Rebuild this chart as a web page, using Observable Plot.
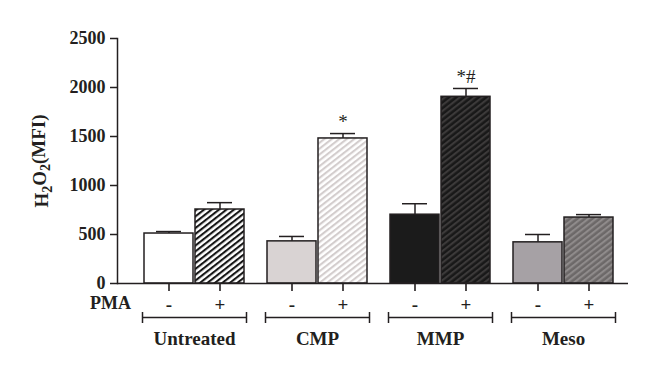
<!DOCTYPE html>
<html><head><meta charset="utf-8">
<script src="https://cdn.jsdelivr.net/npm/d3@7"></script>
<script src="https://cdn.jsdelivr.net/npm/@observablehq/plot@0.6"></script>
<style>body{margin:0;background:#fff}</style>
</head><body><div id="chart"></div>
<script>
const groups = ["Untreated", "CMP", "MMP", "Meso"];
const minusValues = [510, 430, 702, 420];
const minusErrors = [20, 50, 112, 80];
const plusValues = [755, 1480, 1905, 673];
const plusErrors = [70, 50, 85, 30];
const significance = ["", "*", "*#", ""];
const yTicks = [0, 500, 1000, 1500, 2000, 2500];
const pmaLabels = ["-", "+"];
const treatmentLabel = "PMA";
const yLabel = "H2O2(MFI)";

const minus = groups.map((g, i) => ({group: g, value: minusValues[i], err: minusErrors[i], pma: pmaLabels[0]}));
const plus = groups.map((g, i) => ({group: g, value: plusValues[i], err: plusErrors[i], pma: pmaLabels[1], sig: significance[i]}));

const ink = "#231f20";
const minusFill = {Untreated: "#ffffff", CMP: "#d9d3d3", MMP: "#1b1b1b", Meso: "#a6a1a5"};
const plusFill = {Untreated: "url(#hatch-untreated)", CMP: "url(#hatch-cmp)", MMP: "url(#hatch-mmp)", Meso: "url(#hatch-meso)"};
const patterns = [
  {id: "hatch-untreated", bg: "#ffffff", fg: "#161616"},
  {id: "hatch-cmp", bg: "#ffffff", fg: "#d3cdcd"},
  {id: "hatch-mmp", bg: "#181818", fg: "#3c3a3a"},
  {id: "hatch-meso", bg: "#6c6868", fg: "#8f8b8b"}
];

const off = 25.5;
const sw = 1.5;
const serif = "'Liberation Serif', 'Times New Roman', serif";

const chart = Plot.plot({
  width: 660, height: 377,
  marginTop: 38, marginBottom: 94, marginLeft: 117, marginRight: 32,
  style: {fontFamily: serif, fontWeight: "bold", fontSize: "18px", background: "#fff", color: ink},
  x: {domain: groups, paddingInner: 0.19, paddingOuter: 0.157, align: 0.64, axis: null},
  y: {domain: [0, 2500], axis: null},
  color: {type: "identity"},
  marks: [
    Plot.barY(minus, {x: "group", y: "value", fill: d => minusFill[d.group], stroke: ink, strokeWidth: sw, insetRight: 51}),
    Plot.barY(plus, {x: "group", y: "value", fill: d => plusFill[d.group], stroke: ink, strokeWidth: sw, insetLeft: 51}),
    // error bars
    Plot.ruleX(minus, {x: "group", y1: "value", y2: d => d.value + d.err, dx: -off, stroke: ink, strokeWidth: sw}),
    Plot.ruleX(plus, {x: "group", y1: "value", y2: d => d.value + d.err, dx: off, stroke: ink, strokeWidth: sw}),
    Plot.tickY(minus, {x: "group", y: d => d.value + d.err, insetLeft: 12, insetRight: 63, stroke: ink, strokeWidth: sw}),
    Plot.tickY(plus, {x: "group", y: d => d.value + d.err, insetLeft: 63, insetRight: 12, stroke: ink, strokeWidth: sw}),
    // significance
    Plot.text(plus, {x: "group", y: d => d.value + d.err, text: "sig", dx: off, dy: -12, fontWeight: "normal", fontSize: 19}),
    // axes
    Plot.ruleY([0], {stroke: ink, strokeWidth: sw}),
    Plot.frame({anchor: "left", stroke: ink, strokeWidth: sw}),
    Plot.axisY({ticks: yTicks, tickFormat: d => String(d), tickSize: 7, tickPadding: 5, stroke: ink, strokeWidth: sw, label: null, fontSize: 18}),
    // ticks under bars
    Plot.ruleX(groups, {x: d => d, y1: 0, y2: 0, insetTop: 0, insetBottom: -8, dx: -off, stroke: ink, strokeWidth: 1.6}),
    Plot.ruleX(groups, {x: d => d, y1: 0, y2: 0, insetTop: 0, insetBottom: -8, dx: off, stroke: ink, strokeWidth: 1.6}),
    // PMA labels
    Plot.text(minus, {x: "group", y: 0, text: "pma", dx: -off, dy: 21, fontSize: 19}),
    Plot.text(plus, {x: "group", y: 0, text: "pma", dx: off, dy: 21, fontSize: 19}),
    Plot.text([treatmentLabel], {frameAnchor: "bottom-left", textAnchor: "middle", lineAnchor: "middle", text: d => d, dx: -7, dy: 20, fontSize: 18}),
    // group brackets
    Plot.tickY(groups, {x: d => d, y: 0, dy: 34, insetLeft: -2, insetRight: -2, stroke: ink, strokeWidth: sw}),
    Plot.ruleX(groups, {x: d => d, y1: 0, y2: 0, insetTop: 29, insetBottom: -40, dx: -52, stroke: ink, strokeWidth: sw}),
    Plot.ruleX(groups, {x: d => d, y1: 0, y2: 0, insetTop: 29, insetBottom: -40, dx: 52, stroke: ink, strokeWidth: sw}),
    Plot.text(groups, {x: d => d, y: 0, text: d => d, dy: 55, fontSize: 19}),
    // y label
    Plot.text([yLabel], {frameAnchor: "left", textAnchor: "middle", text: d => d, rotate: -90, dx: -76, fontSize: 19})
  ]
});

const defs = d3.select(chart).insert("defs", ":first-child");
for (const p of patterns) {
  const pat = defs.append("pattern").attr("id", p.id).attr("patternUnits", "userSpaceOnUse")
    .attr("width", 4.6).attr("height", 4.6).attr("patternTransform", "rotate(52)");
  pat.append("rect").attr("width", 4.6).attr("height", 4.6).attr("fill", p.bg);
  pat.append("rect").attr("width", 2.1).attr("height", 4.6).attr("fill", p.fg);
}

// subscripts in y label
d3.select(chart).selectAll("text").filter(function() { return this.textContent === yLabel; }).each(function() {
  const t = d3.select(this);
  t.text(null);
  t.append("tspan").text("H");
  t.append("tspan").attr("dy", "0.3em").attr("font-size", "14px").text("2");
  t.append("tspan").attr("dy", "-0.3em").text("O");
  t.append("tspan").attr("dy", "0.3em").attr("font-size", "14px").text("2");
  t.append("tspan").attr("dy", "-0.3em").text("(MFI)");
});

document.getElementById("chart").appendChild(chart);
</script>
</body></html>
